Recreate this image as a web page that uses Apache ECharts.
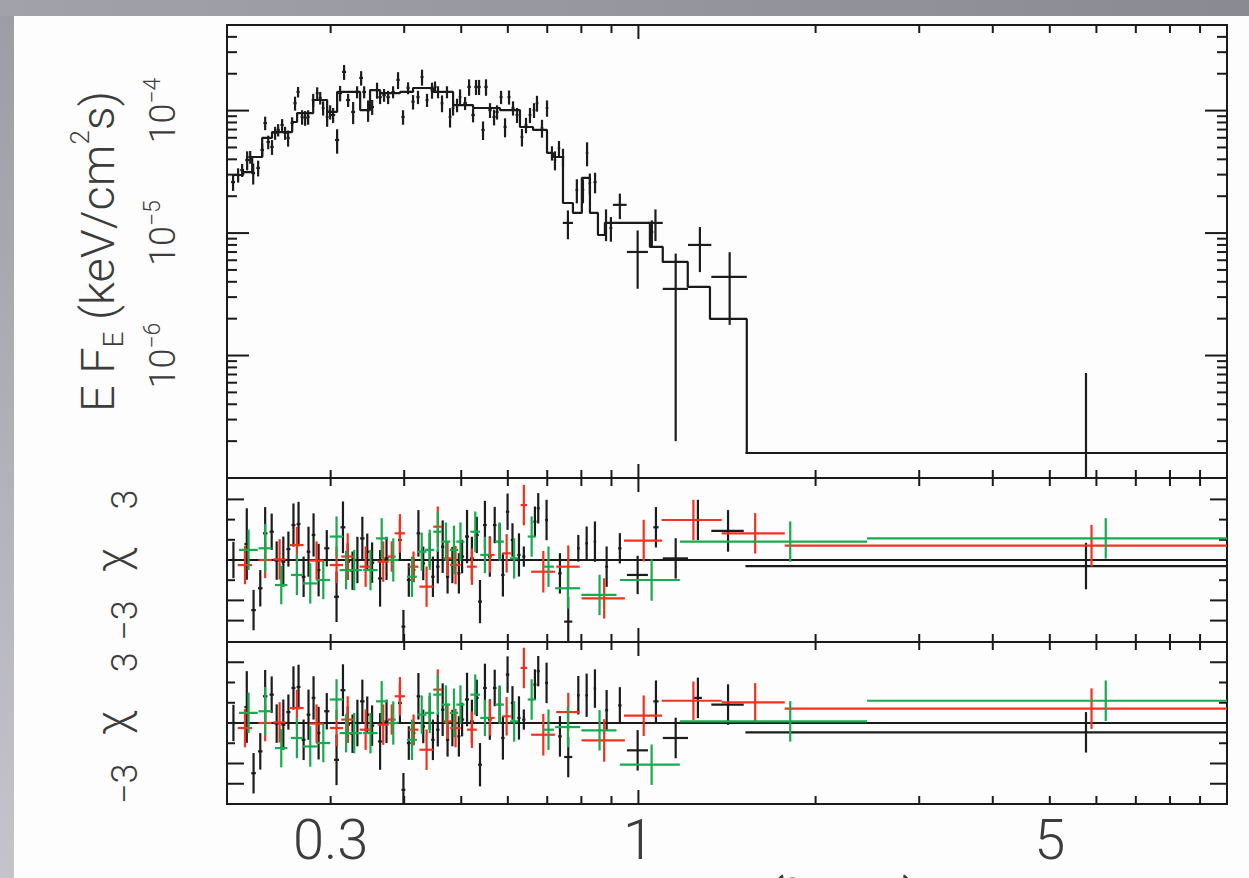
<!DOCTYPE html>
<html>
<head>
<meta charset="utf-8">
<title>EF_E spectrum with residuals</title>
<script src="https://cdn.jsdelivr.net/npm/echarts@6/dist/echarts.min.js"></script>
<style>
  html, body { margin: 0; padding: 0; }
  body { width: 1249px; height: 878px; overflow: hidden; position: relative;
         background: linear-gradient(180deg, #9c9ca4 0%, #c4c4ca 100%); }
  #band { position: absolute; left: 0; top: 0; width: 1249px; height: 16px;
          background: linear-gradient(90deg, #a2a2aa 0%, #8a8a93 100%); }
  #paper { position: absolute; left: 14px; top: 16px; right: 0; bottom: 0; background: #fcfdfc; }
  #chart { position: absolute; left: 0; top: 0; width: 1249px; height: 878px; }
</style>
</head>
<body>
<div id="band"></div>
<div id="paper"></div>
<div id="chart"></div>
<script>
// ---- x axis (energy, keV) ----
const xMin = 0.2, xMax = 10;
const xLabels = [0.3, 1, 5];
const xTicksMinor = [0.3, 0.4, 0.5, 0.6, 0.7, 0.8, 0.9, 2, 3, 4, 5, 6, 7, 8, 9];
const xTicksMajor = [1];

// ---- top panel y axis (E F_E) ----
const fMin = 1e-7, fMax = 5e-4;
const fLabels = [1e-6, 1e-5, 1e-4];
const fTicksMajor = [1e-6, 1e-5, 1e-4];
const fTicksMinor = [2e-7, 3e-7, 4e-7, 5e-7, 6e-7, 7e-7, 8e-7, 9e-7,
  2e-6, 3e-6, 4e-6, 5e-6, 6e-6, 7e-6, 8e-6, 9e-6,
  2e-5, 3e-5, 4e-5, 5e-5, 6e-5, 7e-5, 8e-5, 9e-5,
  2e-4, 3e-4, 4e-4];

// ---- residual axes ----
const chiLabels = [-3, 3];
const chiTicksMajor = [3, -2, -3];
const chiTicksMinor = [2, 1, -1];

// ---- spectrum data: energy, E F_E, error, half bin width ----
const specE = [0.2048,0.2089,0.2122,0.2164,0.2190,0.2216,0.2259,0.2295,0.2322,0.2350,
  0.2385,0.2414,0.2443,0.2481,0.2510,0.2540,0.2580,0.2610,0.2641,0.2683,
  0.2715,0.2747,0.2802,0.2846,0.2880,0.2913,0.2959,0.2994,0.3029,0.3077,
  0.3113,0.3162,0.3212,0.3276,0.3327,0.3380,0.3420,0.3473,0.3529,0.3597,
  0.3640,0.3697,0.3756,0.3830,0.3905,0.3982,0.4061,0.4141,0.4222,0.4289,
  0.4374,0.4460,0.4513,0.4566,0.4638,0.4729,0.4786,0.4843,0.4919,0.4977,
  0.5076,0.5156,0.5237,0.5298,0.5361,0.5445,0.5509,0.5596,0.5685,0.5752,
  0.5843,0.5935,0.6028,0.6123,0.6220,0.6341,0.6442,0.6543,0.6647,0.6725,
  0.6858,0.6994,0.7130,0.7215,0.7329,0.7445,
  0.759,0.786,0.805,0.818,0.827,0.844,0.881,0.898,0.930,0.997,1.054,1.069,1.157,1.272,1.429,5.76];
const specF = [2.61e-5,2.98e-5,3.27e-5,3.95e-5,4.18e-5,3.09e-5,3.40e-5,4.77e-5,7.92e-5,5.54e-5,
  5.05e-5,6.57e-5,6.95e-5,7.63e-5,6.57e-5,5.98e-5,7.92e-5,1.15e-4,1.42e-4,8.87e-5,
  8.71e-5,8.87e-5,1.22e-4,1.39e-4,1.27e-4,1.05e-4,8.87e-5,9.75e-5,9.21e-5,5.75e-5,
  1.39e-4,2.07e-4,1.22e-4,9.75e-5,1.42e-4,1.85e-4,1.42e-4,1.01e-4,1.07e-4,1.47e-4,
  1.29e-4,1.34e-4,1.29e-4,1.42e-4,1.78e-4,8.87e-5,1.53e-4,1.18e-4,1.29e-4,1.88e-4,
  1.22e-4,1.47e-4,1.56e-4,1.42e-4,1.15e-4,1.42e-4,8.87e-5,1.05e-4,1.11e-4,1.29e-4,
  1.15e-4,1.56e-4,9.21e-5,1.56e-4,1.56e-4,6.95e-5,1.56e-4,1.01e-4,8.87e-5,9.75e-5,
  1.29e-4,7.35e-5,1.29e-4,1.05e-4,9.21e-5,6.09e-5,7.63e-5,9.21e-5,1.01e-4,1.15e-4,
  7.21e-5,1.05e-4,4.51e-5,3.95e-5,4.95e-5,4.18e-5,
  1.21e-5,2.25e-5,2.25e-5,4.51e-5,2.56e-5,2.61e-5,1.21e-5,1.10e-5,1.70e-5,7.01e-6,1.02e-5,1.21e-5,3.50e-6,8.0e-6,4.38e-6,1.6e-7];
const specErr = [4e-6,4e-6,4e-6,7e-6,5e-6,6e-6,5e-6,6e-6,1e-5,7e-6,
  7e-6,8e-6,8e-6,9e-6,8e-6,9e-6,9e-6,1.5e-5,1.4e-5,1.2e-5,
  1.2e-5,1.2e-5,1.5e-5,1.6e-5,1.5e-5,1.4e-5,1.5e-5,1.3e-5,1.3e-5,1.3e-5,
  2e-5,2.9e-5,1.5e-5,2e-5,1.6e-5,2.5e-5,1.6e-5,2e-5,1.5e-5,2.2e-5,
  1.6e-5,1.6e-5,1.6e-5,1.6e-5,2.8e-5,1.2e-5,1.7e-5,1.6e-5,1.6e-5,2.8e-5,
  1.5e-5,2.2e-5,1.7e-5,1.6e-5,1.8e-5,1.6e-5,1.6e-5,1.4e-5,1.4e-5,2e-5,
  1.4e-5,2.4e-5,1.2e-5,2.2e-5,2.2e-5,1.2e-5,2.4e-5,1.4e-5,1.3e-5,1.3e-5,
  1.6e-5,1.3e-5,1.7e-5,1.4e-5,1.3e-5,1e-5,1.1e-5,1.3e-5,1.4e-5,1.7e-5,
  1.2e-5,1.6e-5,6e-6,7e-6,7e-6,7e-6,
  3.2e-6,5e-6,5e-6,1e-5,5e-6,5e-6,3.5e-6,2.5e-6,4e-6,3.5e-6,2.5e-6,3.5e-6,3.3e-6,3.2e-6,2.6e-6,5.6e-7];
const specHw = [0.0016,0.0016,0.0016,0.0016,0.0016,0.0016,0.0016,0.0016,0.0016,0.0016,
  0.0016,0.0016,0.0016,0.0016,0.0016,0.0016,0.0016,0.0016,0.0016,0.0016,
  0.0016,0.0016,0.0016,0.0016,0.0016,0.0016,0.0016,0.0016,0.0025,0.0025,
  0.0025,0.0025,0.0025,0.0025,0.0025,0.0025,0.0025,0.0025,0.0025,0.0025,
  0.0025,0.0025,0.0025,0.0025,0.0025,0.0025,0.0025,0.0025,0.0025,0.0025,
  0.0025,0.0025,0.0025,0.0025,0.0025,0.0025,0.0025,0.0025,0.0025,0.0025,
  0.0035,0.0035,0.0035,0.0035,0.0035,0.0035,0.0035,0.0035,0.0035,0.0035,
  0.0035,0.0035,0.0035,0.0035,0.0035,0.0035,0.0035,0.0035,0.0035,0.0035,
  0.0035,0.0035,0.0035,0.0035,0.0035,0.0035,
  0.015,0.004,0.004,0.004,0.004,0.005,0.005,0.005,0.025,0.041,0.006,0.031,0.057,0.058,0.099,4.24];

// ---- folded model (histogram): bin left edges and values ----
const modelEdges = [0.2040,0.2131,0.2207,0.2295,0.2385,0.2580,0.2631,0.2802,0.2959,0.3077,
  0.3367,0.3500,0.3640,0.3936,0.4141,0.4478,0.4843,0.5237,0.5819,0.6292,
  0.6621,0.6994,0.7158,0.7445,0.7740,0.8015,0.8273,0.8536,0.8772,1.046,
  1.100,1.213,1.323,1.528,10];
const modelF = [2.98e-5,3.15e-5,4.18e-5,5.98e-5,6.68e-5,8.07e-5,9.55e-5,1.22e-4,9.75e-5,1.42e-4,
  1.01e-4,1.47e-4,1.39e-4,1.42e-4,1.53e-4,1.42e-4,1.11e-4,1.05e-4,1.01e-4,7.35e-5,
  6.95e-5,4.51e-5,4.18e-5,1.76e-5,1.46e-5,2.82e-5,1.46e-5,9.64e-6,1.21e-5,7.70e-6,
  5.81e-6,3.63e-6,1.99e-6,1.60e-7];

// ---- residuals [energy, chi, error, half bin width] ----
// soft band, same in both residual panels
const denseBlack = [[0.2051,0,0.9,0.002],[0.2161,0.79,1.77,0.002],[0.2219,-2.48,1.0,0.002],[0.2278,-1.40,0.9,0.002],[0.2322,1.32,1.3,0.002],
  [0.2382,1.40,0.9,0.002],[0.2429,-0.03,0.95,0.002],[0.2493,-0.08,1.24,0.002],[0.2543,0.54,0.87,0.002],[0.2594,1.73,1.07,0.002],
  [0.2646,1.78,1.1,0.002],[0.2699,-0.83,1.0,0.002],[0.2751,0.41,1.24,0.002],[0.2806,1.24,1.07,0.002],[0.2862,-0.5,1.3,0.002],
  [0.2955,0.58,0.9,0.003],[0.3070,-1.82,1.25,0.003],[0.3148,1.62,1.28,0.003],[0.3207,-0.08,0.9,0.003],[0.3268,-0.53,0.95,0.003],
  [0.3331,0,1.15,0.003],[0.3396,1.07,1.07,0.003],[0.3462,0.41,0.9,0.003],[0.3528,-0.13,1.0,0.003],[0.3640,-0.91,1.4,0.003],
  [0.3733,0.08,1.07,0.003],[0.3934,0.99,1.0,0.003],[0.3988,-3.30,0.83,0.003],[0.4073,-0.99,0.83,0.003],[0.4149,-0.5,0.6,0.003],
  [0.4229,1.32,1.15,0.003],[0.4310,-0.17,0.83,0.003],[0.4420,0.5,0.83,0.003],[0.4476,-0.83,1.0,0.003],[0.4562,-0.33,0.83,0.003],
  [0.4650,0.66,1.3,0.003],[0.4740,-0.83,0.83,0.003],[0.4830,-0.25,0.9,0.003],[0.4954,-0.66,1.0,0.003],[0.5017,0.17,0.83,0.004],
  [0.5115,1.16,1.32,0.004],[0.5213,0.08,1.07,0.004],[0.5314,1.24,0.9,0.004],[0.5381,-2.06,1.07,0.004],[0.5486,1.73,1.2,0.004],
  [0.5592,0.17,1.0,0.004],[0.5700,1.73,0.9,0.004],[0.5810,0.91,0.9,0.004],[0.5885,-0.74,1.07,0.004],[0.5994,2.39,0.9,0.004],
  [0.6110,0.99,0.83,0.004],[0.6267,0.25,1.07,0.004],[0.6388,0.17,0.5,0.004],[0.6671,1.90,0.75,0.004],[0.6758,2.56,0.75,0.004],
  [0.6982,1.98,1.0,0.004],[0.7357,-0.66,1.0,0.005]];
const denseRed = [[0.2146,-0.25,0.95,0.006],[0.2322,0,0.9,0.006],[0.2457,0.03,1.0,0.006],[0.2629,0.74,0.9,0.007],[0.2839,-0.03,0.95,0.008],
  [0.3070,-0.25,0.9,0.008],[0.3207,0.17,1.15,0.008],[0.3440,-0.33,1.0,0.008],[0.3685,-0.08,1.0,0.008],[0.3810,0.17,0.75,0.006],
  [0.3934,1.32,0.95,0.008],[0.4149,-0.33,0.75,0.008],[0.4366,-1.32,1.0,0.012],[0.4562,1.65,1.0,0.008],[0.4740,0.08,0.87,0.008],
  [0.4890,-0.25,0.95,0.01],[0.5213,-0.33,0.9,0.01],[0.5596,0.25,0.87,0.01],[0.5972,0.33,0.95,0.01],[0.6388,2.72,1.0,0.008],
  [0.6893,-0.58,1.03,0.032]];
const denseGreen = [[0.2176,0.5,1.0,0.008],[0.2322,0.58,1.2,0.006],[0.2473,-1.24,0.95,0.006],[0.2629,-0.74,1.0,0.006],[0.2770,-1.16,1.0,0.008],
  [0.2915,-0.99,0.95,0.008],[0.3070,1.16,1.0,0.008],[0.3187,-0.5,0.95,0.008],[0.3290,-0.5,1.0,0.01],[0.3506,-0.5,1.0,0.01],
  [0.3663,1.07,1.0,0.008],[0.3833,0,1.07,0.008],[0.4124,-0.83,1.0,0.008],[0.4284,0.41,0.95,0.008],[0.4420,0.5,1.0,0.008],
  [0.4562,1.40,1.0,0.008],[0.4710,0.91,0.95,0.008],[0.4860,0.5,1.2,0.008],[0.4985,0.91,0.95,0.008],[0.5282,1.40,1.0,0.01],
  [0.5486,0.25,0.9,0.01],[0.5810,0.91,0.95,0.01],[0.6150,0.08,1.0,0.01],[0.6586,1.16,1.0,0.01],[0.7034,-0.33,1.0,0.015]];
// harder band, middle panel
const midBlackHi = [[0.760,-3.05,1.24,0.012],[0.7905,0.58,0.66,0.004],[0.8167,0.83,0.83,0.004],[0.8436,0.91,1.0,0.004],
  [0.8831,-0.33,1.0,0.005],[0.930,0.58,0.75,0.006],[0.997,-0.74,0.95,0.041],[1.071,1.62,1.0,0.011],
  [1.157,0.08,1.0,0.057],[1.262,1.98,1.0,0.02],[1.42,1.44,1.03,0.09],[5.76,-0.30,1.15,4.24]];
const midRedHi = [[0.760,-0.33,1.05,0.035],[0.8746,-1.90,1.0,0.074],[1.021,0.96,1.03,0.076],[1.24,1.98,1.0,0.145],
  [1.579,1.32,1.0,0.194],[5.886,0.71,1.03,4.114]];
const midGreenHi = [[0.759,-1.40,1.0,0.037],[0.859,-1.73,1.0,0.059],[1.053,-0.99,1.03,0.123],[1.811,0.91,1.0,0.635],
  [6.223,1.07,1.0,3.777]];
// harder band, bottom panel
const lowBlackHi = [[0.760,-1.68,1.0,0.012],[0.7905,1.37,0.95,0.004],[0.8167,1.37,1.07,0.004],[0.8436,1.70,0.95,0.004],
  [0.8831,0.63,1.0,0.005],[0.930,0.87,0.9,0.006],[0.997,-1.35,1.0,0.041],[1.071,1.07,1.03,0.011],
  [1.157,-0.74,1.0,0.057],[1.262,1.24,1.0,0.02],[1.42,0.91,1.0,0.09],[5.76,-0.46,1.0,4.24]];
const lowRedHi = [[0.760,0.54,0.95,0.035],[0.8746,-0.86,1.05,0.074],[1.021,0.36,1.0,0.076],[1.24,1.1,0.95,0.145],
  [1.579,1.02,0.95,0.194],[5.886,0.71,1.0,4.114]];
const lowGreenHi = [[0.759,-0.2,1.0,0.037],[0.859,-0.36,1.0,0.059],[1.053,-2.06,1.0,0.123],[1.811,0.08,1.0,0.635],
  [6.223,1.1,1.0,3.777]];

const INK = '#1a1a1a';
const TXT = '#3c3c3c';
const FONT = 'Roboto, "Liberation Sans", sans-serif';
const RED = '#f2321f';
const GREEN = '#18aa4e';

const chart = echarts.init(document.getElementById('chart'), null, { renderer: 'svg' });

// error-bar cross: horizontal = bin, vertical = error
function crossRender(floor, width) {
  return function (params, api) {
    const e = api.value(0), v = api.value(1), err = api.value(2), hw = api.value(3);
    const lo = Math.max(v - err, floor);
    const l = api.coord([e - hw, v]);
    const r = api.coord([e + hw, v]);
    const t = api.coord([e, v + err]);
    const b = api.coord([e, lo]);
    const style = { stroke: api.visual('color'), lineWidth: width };
    return {
      type: 'group',
      children: [
        { type: 'line', shape: { x1: l[0], y1: l[1], x2: r[0], y2: r[1] }, style: style },
        { type: 'line', shape: { x1: t[0], y1: t[1], x2: b[0], y2: b[1] }, style: style }
      ]
    };
  };
}

function xTickRender(len, yRef) {
  return function (params, api) {
    const cs = params.coordSys;
    const x = api.coord([api.value(0), yRef])[0];
    const st = { stroke: INK, lineWidth: 2 };
    return {
      type: 'group',
      children: [
        { type: 'line', shape: { x1: x, y1: cs.y + cs.height, x2: x, y2: cs.y + cs.height - len }, style: st },
        { type: 'line', shape: { x1: x, y1: cs.y, x2: x, y2: cs.y + len }, style: st }
      ]
    };
  };
}

function yTickRender(len) {
  return function (params, api) {
    const cs = params.coordSys;
    const y = api.coord([1, api.value(1)])[1];
    const st = { stroke: INK, lineWidth: 2 };
    return {
      type: 'group',
      children: [
        { type: 'line', shape: { x1: cs.x, y1: y, x2: cs.x + len, y2: y }, style: st },
        { type: 'line', shape: { x1: cs.x + cs.width, y1: y, x2: cs.x + cs.width - len, y2: y }, style: st }
      ]
    };
  };
}

function tickSeries(gi, kind, values, len, yRef) {
  return {
    type: 'custom', xAxisIndex: gi, yAxisIndex: gi, clip: false, silent: true, z: 5,
    renderItem: kind === 'x' ? xTickRender(len, yRef) : yTickRender(len),
    encode: { x: 0, y: 1 },
    data: values.map(v => kind === 'x' ? [v, yRef] : [1, v])
  };
}

function crossSeries(gi, data, color, floor, width, z) {
  return {
    type: 'custom', xAxisIndex: gi, yAxisIndex: gi, clip: true, silent: true, z: z,
    itemStyle: { color: color },
    renderItem: crossRender(floor, width),
    encode: { x: 0, y: 1 },
    data: data
  };
}

const spectrum = specE.map((e, i) => [e, specF[i], specErr[i], specHw[i]]);
const modelLine = modelF.map((f, i) => [modelEdges[i], f]);
modelLine.push([modelEdges[modelEdges.length - 1], modelF[modelF.length - 1]]);

const grids = [
  { left: 227, top: 25, width: 1000, height: 453 },
  { left: 227, top: 478, width: 1000, height: 164 },
  { left: 227, top: 642, width: 1000, height: 162 }
].map(g => Object.assign({
  show: true, borderColor: INK, borderWidth: 2, backgroundColor: 'transparent',
  containLabel: false, outerBoundsMode: 'none'
}, g));

const xAxes = [0, 1, 2].map(i => ({
  type: 'log', logBase: 10, gridIndex: i, min: xMin, max: xMax,
  axisLine: { show: false }, axisTick: { show: false }, splitLine: { show: false },
  axisLabel: {
    show: i === 2, customValues: xLabels, margin: 11,
    formatter: v => String(v),
    fontFamily: FONT, fontWeight: 300, fontSize: 56, lineHeight: 50, color: TXT
  },
  name: i === 2 ? 'Energy (keV)' : '', nameLocation: 'middle', nameGap: 67, nameMoveOverlap: false,
  nameTextStyle: { fontFamily: FONT, fontWeight: 300, fontSize: 72, lineHeight: 72, color: TXT }
}));

const supRich = {
  b: { fontFamily: FONT, fontWeight: 300, fontSize: 36, color: TXT, lineHeight: 44 },
  s: { fontFamily: FONT, fontWeight: 300, fontSize: 23, color: TXT, verticalAlign: 'top', lineHeight: 44 }
};

const yAxes = [
  {
    type: 'log', logBase: 10, gridIndex: 0, min: fMin, max: fMax,
    axisLine: { show: false }, axisTick: { show: false }, splitLine: { show: false },
    axisLabel: {
      customValues: fLabels, rotate: 90, margin: 42,
      formatter: v => '{b|10}{s|\u2212' + Math.abs(Math.round(Math.log10(v))) + '}',
      rich: supRich
    },
    name: '{t|E F}{sub|E}{t| (keV/cm}{sup|2}{t|s)}', nameLocation: 'middle', nameRotate: 90, nameGap: 100,
    nameMoveOverlap: false,
    nameTextStyle: {
      rich: {
        t: { fontFamily: FONT, fontWeight: 300, fontSize: 47, color: TXT, lineHeight: 60 },
        sub: { fontFamily: FONT, fontWeight: 300, fontSize: 28, color: TXT, verticalAlign: 'bottom', lineHeight: 60 },
        sup: { fontFamily: FONT, fontWeight: 300, fontSize: 26, color: TXT, verticalAlign: 'top', lineHeight: 60 }
      }
    }
  }
].concat([1, 2].map(i => ({
  type: 'value', gridIndex: i, min: i === 1 ? -4.06 : -4.0, max: i === 1 ? 4.06 : 4.0,
  axisLine: { show: false }, axisTick: { show: false }, splitLine: { show: false },
  axisLabel: {
    customValues: chiLabels, rotate: 90, margin: 84,
    formatter: v => (v < 0 ? '\u2212' : '') + Math.abs(v),
    fontFamily: FONT, fontWeight: 300, fontSize: 36, color: TXT
  },
  name: '\u03c7', nameLocation: 'middle', nameRotate: 90, nameGap: 92, nameMoveOverlap: false,
  nameTextStyle: { fontFamily: FONT, fontWeight: 300, fontSize: 46, color: TXT }
})));

const series = [
  // frame ticks
  tickSeries(0, 'x', xTicksMinor, 8, 1e-5),
  tickSeries(0, 'x', xTicksMajor, 14, 1e-5),
  tickSeries(1, 'x', xTicksMinor, 8, 0),
  tickSeries(1, 'x', xTicksMajor, 14, 0),
  tickSeries(2, 'x', xTicksMinor, 8, 0),
  tickSeries(2, 'x', xTicksMajor, 14, 0),
  tickSeries(0, 'y', fTicksMinor, 10),
  tickSeries(0, 'y', fTicksMajor, 22),
  tickSeries(1, 'y', chiTicksMinor, 8),
  tickSeries(1, 'y', chiTicksMajor, 17),
  tickSeries(2, 'y', chiTicksMinor, 8),
  tickSeries(2, 'y', chiTicksMajor, 17),
  // spectrum and model
  crossSeries(0, spectrum, '#1c1c1c', fMin, 2.2, 3),
  {
    type: 'line', xAxisIndex: 0, yAxisIndex: 0, step: 'end', symbol: 'none', silent: true, z: 4,
    lineStyle: { color: INK, width: 2.2 }, data: modelLine
  },
  // zero lines
  {
    type: 'line', xAxisIndex: 1, yAxisIndex: 1, symbol: 'none', silent: true, z: 2,
    lineStyle: { color: INK, width: 2 }, data: [[xMin, 0], [xMax, 0]]
  },
  {
    type: 'line', xAxisIndex: 2, yAxisIndex: 2, symbol: 'none', silent: true, z: 2,
    lineStyle: { color: INK, width: 2 }, data: [[xMin, 0], [xMax, 0]]
  },
  // residuals, middle panel
  crossSeries(1, denseBlack.concat(midBlackHi), '#1c1c1c', -10, 2.2, 3),
  crossSeries(1, denseRed.concat(midRedHi), RED, -10, 2.2, 4),
  crossSeries(1, denseGreen.concat(midGreenHi), GREEN, -10, 2.2, 5),
  // residuals, bottom panel
  crossSeries(2, denseBlack.concat(lowBlackHi), '#1c1c1c', -10, 2.2, 3),
  crossSeries(2, denseRed.concat(lowRedHi), RED, -10, 2.2, 4),
  crossSeries(2, denseGreen.concat(lowGreenHi), GREEN, -10, 2.2, 5)
];

chart.setOption({
  animation: false,
  backgroundColor: 'transparent',
  grid: grids,
  xAxis: xAxes,
  yAxis: yAxes,
  series: series
});
</script>
</body>
</html>
